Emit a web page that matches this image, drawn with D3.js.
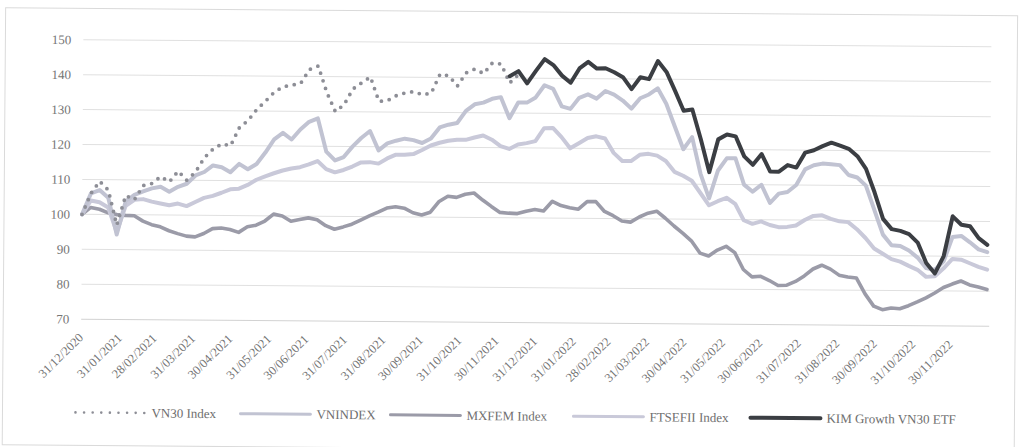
<!DOCTYPE html>
<html>
<head>
<meta charset="utf-8">
<script src="https://cdn.jsdelivr.net/npm/d3@7"></script>
<style>
  html, body { margin: 0; padding: 0; background: #fff; }
  svg { display: block; }
  text { font-family: "Liberation Serif", "Times New Roman", serif; }
</style>
</head>
<body>
<div id="chart"></div>
<script>
(function () {
  'use strict';

  // weekly closes, rebased to 100 on 31/12/2020
  var START = '31/12/2020';

  var VNINDEX = [
    100, 106, 107, 104.8, 94.3, 103.8, 105.7, 106.7, 107.6, 108.1,
    106.7, 108.1, 109, 111.4, 112.4, 114.3, 113.8, 112.4, 114.8, 113.3,
    114.8, 118.1, 121.9, 123.8, 121.9, 124.8, 127, 128, 118.5, 116,
    117, 120, 122.5, 124.5, 119, 121, 121.8, 122.4, 122, 121.2,
    122.5, 125.7, 126.5, 127, 130.5, 132.4, 132.9, 134, 134.5, 128.5,
    133, 133, 134.5, 138, 137, 132, 131.3, 134.5, 135.5, 134.3,
    136.5, 135.5, 133.8, 131.5, 134.5, 135.6, 137.4, 133, 126.5, 120,
    123.5, 113, 106, 114, 117.5, 117.5, 110, 108, 110, 104.8,
    107.5, 108, 110, 114.5, 115.7, 116.2, 116, 115.8, 113, 112.3,
    110, 103, 96, 93, 92.8, 91.5, 89.5, 86.5, 86, 88.5,
    95.5, 95.8, 94, 92, 91.2
  ];

  var FTSEFII = [
    100, 104, 103.5, 102, 95, 102.5, 104.3, 104.5, 103.8, 103.3,
    102.8, 103.3, 102.6, 103.8, 105, 105.6, 106.5, 107.5, 107.7, 108.8,
    110.3, 111.3, 112.2, 113, 113.6, 114, 114.8, 115.8, 113.5, 112.6,
    113.3, 114.3, 115.5, 115.6, 115.2, 116.7, 117.8, 117.8, 118, 119.2,
    120.5, 121.3, 121.9, 122.2, 122.2, 122.9, 123.5, 122.3, 120.5, 119.7,
    121, 121.4, 122, 125.7, 125.8, 123.2, 120, 121.5, 123, 123.5,
    122.9, 118.8, 116.5, 116.5, 118.3, 118.6, 118.1, 116.6, 113.5, 112.4,
    111, 107.5, 104, 105.2, 106.2, 104.5, 99.8, 98.8, 99.5, 98.5,
    97.9, 98, 98.4, 100, 101.2, 101.4, 100.4, 99.7, 99.5, 97.5,
    95, 92, 90.5, 89, 88.3, 87.1, 86, 84, 84.2, 86.5,
    89.2, 89, 88, 87, 86.2
  ];

  var MXFEM = [
    100, 102, 101.5, 100.5, 100, 99.8, 99.7, 98.2, 97.2, 96.6,
    95.5, 94.7, 94, 93.8, 94.8, 96.2, 96.4, 96, 95.2, 96.8,
    97.3, 98.5, 100.5, 100, 98.5, 99, 99.5, 99, 97.3, 96.3,
    97, 97.8, 99, 100.2, 101.3, 102.5, 102.9, 102.5, 101.2, 100.6,
    101.4, 104.5, 106, 105.7, 106.6, 107, 105, 103.2, 101.5, 101.3,
    101.2, 101.9, 102.4, 102, 104.8, 103.6, 103, 102.6, 104.8, 104.8,
    102, 100.8, 99.3, 99, 100.5, 101.6, 102.2, 100.2, 98, 96,
    93.8, 90.3, 89.5, 91.2, 92.3, 90.5, 85.7, 83.6, 83.8, 82.6,
    81.2, 81.3, 82.4, 84, 86, 87.1, 86, 84.3, 83.8, 83.5,
    79, 75.5, 74.5, 75, 74.8, 75.7, 76.8, 78, 79.4, 81,
    82, 82.9, 81.8, 81.2, 80.5
  ];

  // VN30 shown until the ETF line takes over (weeks 0..50)
  var VN30 = [
    100, 106, 109.5, 107, 97, 105.5, 104.3, 108.4, 109, 111,
    109.5, 112.6, 110, 112.4, 116.5, 119, 120.5, 120, 125.2, 127.3,
    130.5, 132.9, 135.5, 137, 137.5, 138, 142, 143, 135.5, 130,
    132, 136.5, 138.3, 140, 133, 133.3, 134.7, 135.5, 135.9, 135,
    135.5, 141, 140.5, 137.6, 141.4, 142.5, 141.2, 144.3, 144, 138.6,
    141
  ];

  // KIM Growth VN30 ETF, from week 49 onwards
  var KIM_FIRST_WEEK = 49;
  var KIM = [
    140.5, 142, 138.5, 142.1, 145.5, 143.8, 140.8, 138.8, 142.9, 144.8,
    142.9, 143, 141.9, 140.5, 137.1, 140.5, 140, 145.2, 142.1, 136.7,
    131, 131.4, 122.9, 113.5, 122.9, 124.3, 123.8, 118.1, 115.7, 118.8,
    113.8, 113.8, 115.7, 115, 119.3, 120, 121.2, 122.2, 121.4, 120.5,
    118.4, 114.8, 108.1, 100.5, 97.6, 97.1, 96.2, 93.8, 88, 85,
    90, 101.4, 99, 98.6, 95.2, 93.3
  ];

  var X_TICKS = [
    '31/12/2020', '31/01/2021', '28/02/2021', '31/03/2021', '30/04/2021', '31/05/2021',
    '30/06/2021', '31/07/2021', '31/08/2021', '30/09/2021', '31/10/2021', '30/11/2021',
    '31/12/2021', '31/01/2022', '28/02/2022', '31/03/2022', '30/04/2022', '31/05/2022',
    '30/06/2022', '31/07/2022', '31/08/2022', '30/09/2022', '31/10/2022', '30/11/2022'
  ];
  var Y_TICKS = [70, 80, 90, 100, 110, 120, 130, 140, 150];

  var SERIES_NAMES = ['VN30 Index', 'VNINDEX', 'MXFEM Index', 'FTSEFII Index', 'KIM Growth VN30 ETF'];

  var STYLE = {
    'VN30 Index':          { color: '#8d8e96', width: 3.8, dash: '0 8' },
    'VNINDEX':             { color: '#c1c3d2', width: 4,   dash: null },
    'MXFEM Index':         { color: '#9b9ba8', width: 3.6, dash: null },
    'FTSEFII Index':       { color: '#c9c9d9', width: 4,   dash: null },
    'KIM Growth VN30 ETF': { color: '#3b3e43', width: 4,   dash: null }
  };

  var W = 1021, H = 447;
  var parse = d3.timeParse('%d/%m/%Y');
  var t0 = parse(START);

  function weekly(values, firstWeek) {
    return values.map(function (v, i) {
      return { date: d3.timeDay.offset(t0, 7 * (firstWeek + i)), value: v };
    });
  }

  var data = {
    'VN30 Index': weekly(VN30, 0),
    'VNINDEX': weekly(VNINDEX, 0),
    'MXFEM Index': weekly(MXFEM, 0),
    'FTSEFII Index': weekly(FTSEFII, 0),
    'KIM Growth VN30 ETF': weekly(KIM, KIM_FIRST_WEEK)
  };

  var x = d3.scaleTime()
    .domain([t0, parse('31/12/2022')])
    .range([82, 990]);
  var y = d3.scaleLinear()
    .domain([70, 150])
    .range([322.7, 43.3]);

  var svg = d3.select('#chart').append('svg')
    .attr('width', W).attr('height', H);

  svg.append('rect').attr('width', W).attr('height', H).attr('fill', '#fff');

  // the scan is slightly tilted, so the whole page is too
  var root = svg.append('g').attr('transform', 'rotate(0.45 536 220)');

  root.append('rect')
    .attr('x', 4).attr('y', 12).attr('width', 1012).attr('height', 437)
    .attr('fill', 'none').attr('stroke', '#dadada').attr('stroke-width', 1);

  // gridlines
  root.append('g').selectAll('line').data(Y_TICKS).enter()
    .append('line')
    .attr('x1', x.range()[0]).attr('x2', x.range()[1])
    .attr('y1', function (d) { return y(d); })
    .attr('y2', function (d) { return y(d); })
    .attr('stroke', function (d) { return d === 70 ? '#d2d2d2' : '#e0e0e0'; })
    .attr('stroke-width', 1);

  // y labels
  root.append('g').selectAll('text').data(Y_TICKS).enter()
    .append('text')
    .attr('x', 70)
    .attr('y', function (d) { return y(d); })
    .attr('dy', '0.35em')
    .attr('text-anchor', 'end')
    .attr('font-size', '13px')
    .attr('fill', '#767676')
    .text(function (d) { return d; });

  // x labels, slanted
  root.append('g').selectAll('text').data(X_TICKS).enter()
    .append('text')
    .attr('transform', function (d) {
      return 'translate(' + (x(parse(d)) + 3) + ',342) rotate(-45)';
    })
    .attr('text-anchor', 'end')
    .attr('font-size', '12.5px')
    .attr('fill', '#727272')
    .text(function (d) { return d; });

  var line = d3.line()
    .x(function (d) { return x(d.date); })
    .y(function (d) { return y(d.value); });

  var drawOrder = ['MXFEM Index', 'FTSEFII Index', 'VNINDEX', 'VN30 Index', 'KIM Growth VN30 ETF'];
  var plot = root.append('g');
  drawOrder.forEach(function (name) {
    var s = STYLE[name];
    plot.append('path')
      .datum(data[name])
      .attr('d', line)
      .attr('fill', 'none')
      .attr('stroke', s.color)
      .attr('stroke-width', s.width)
      .attr('stroke-linejoin', 'round')
      .attr('stroke-linecap', 'round')
      .attr('stroke-dasharray', s.dash);
  });

  // legend
  var LEGEND_X = [77, 242, 392, 575, 752];
  var LEGEND_Y = 416;
  var leg = root.append('g');
  SERIES_NAMES.forEach(function (name, i) {
    var s = STYLE[name];
    var lx = LEGEND_X[i];
    leg.append('line')
      .attr('x1', lx).attr('x2', lx + 70)
      .attr('y1', LEGEND_Y).attr('y2', LEGEND_Y)
      .attr('stroke', s.color)
      .attr('stroke-width', s.dash ? 2.6 : (i === 4 ? 4 : 3))
      .attr('stroke-linecap', 'round')
      .attr('stroke-dasharray', s.dash ? '0 8.6' : null);
    leg.append('text')
      .attr('x', lx + 76)
      .attr('y', LEGEND_Y)
      .attr('dy', '0.35em')
      .attr('font-size', '13px')
      .attr('fill', '#6e6e6e')
      .text(name);
  });
})();
</script>
</body>
</html>
